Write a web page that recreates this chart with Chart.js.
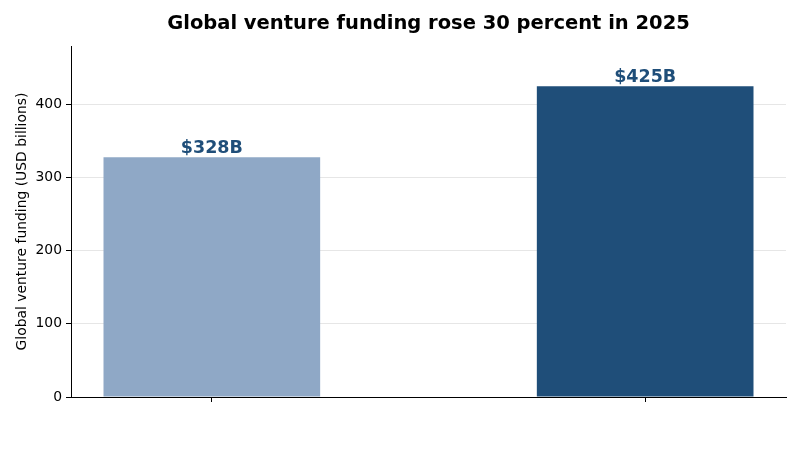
<!DOCTYPE html>
<html>
<head>
<meta charset="utf-8">
<script src="https://cdn.jsdelivr.net/npm/chart.js@4.4.1/dist/chart.umd.min.js"></script>
<style>
html,body{margin:0;padding:0;background:#fff;}
#wrap{width:800px;height:459px;position:relative;}
</style>
</head>
<body>
<div id="wrap"><canvas id="c" width="800" height="459"></canvas></div>
<script>
const categories = ['2024', '2025'];
const funding = [328, 425];
const valueLabels = ['$328B', '$425B'];
const barColors = ['#8fa8c6', '#1f4e79'];
const yTicks = [0, 100, 200, 300, 400];
const titleText = 'Global venture funding rose 30 percent in 2025';
const yTitle = 'Global venture funding (USD billions)';

const FONT = "'DejaVu Sans', sans-serif";

const titlePlugin = {
  id: 'centerTitle',
  afterDraw(chart) {
    const ctx = chart.ctx, a = chart.chartArea;
    ctx.save();
    ctx.font = 'bold 19.5px ' + FONT;
    ctx.fillStyle = '#000';
    ctx.textAlign = 'center';
    ctx.textBaseline = 'middle';
    ctx.fillText(titleText, (a.left + a.right) / 2, 24);
    ctx.restore();
  }
};

const barLabelPlugin = {
  id: 'barLabels',
  afterDatasetsDraw(chart) {
    const ctx = chart.ctx;
    const meta = chart.getDatasetMeta(0);
    ctx.save();
    ctx.font = 'bold 17.5px ' + FONT;
    ctx.fillStyle = '#1f4e79';
    ctx.textAlign = 'center';
    ctx.textBaseline = 'alphabetic';
    meta.data.forEach((el, i) => {
      ctx.fillText(valueLabels[i], el.x, el.y - 4);
    });
    ctx.restore();
  }
};

new Chart(document.getElementById('c'), {
  type: 'bar',
  data: {
    datasets: [{
      data: categories.map((c, i) => ({x: i, y: funding[i]})),
      backgroundColor: barColors,
      borderWidth: 0,
      barPercentage: 0.5,
      categoryPercentage: 1.0
    }]
  },
  options: {
    responsive: false,
    animation: false,
    devicePixelRatio: 1,
    layout: {padding: {top: 46, right: 14, left: 0, bottom: 0}},
    plugins: {
      legend: {display: false},
      title: {display: false},
      tooltip: {enabled: false}
    },
    scales: {
      x: {
        type: 'linear',
        offset: false,
        min: -0.325,
        max: 1.325,
        afterBuildTicks(scale) { scale.ticks = categories.map((c, i) => ({value: i})); },
        afterFit(scale) { scale.height = 62; },
        ticks: {callback: () => '', font: {family: FONT, size: 13.9}},
        grid: {offset: false, drawOnChartArea: false, drawTicks: true, tickLength: 5, color: 'rgba(0,0,0,0)', tickColor: '#000', tickWidth: 1},
        border: {display: true, color: '#000', width: 1}
      },
      y: {
        min: 0,
        max: 480,
        afterBuildTicks(scale) { scale.ticks = yTicks.map(v => ({value: v})); },
        afterFit(scale) { scale.width = 71; },
        ticks: {color: '#000', padding: 4, font: {family: FONT, size: 13.9}},
        grid: {
          color: (ctx) => (ctx.tick && ctx.tick.value === 0) ? 'rgba(0,0,0,0)' : '#e6e6e6',
          tickColor: '#000',
          tickLength: 5,
          lineWidth: 1
        },
        border: {display: true, color: '#000', width: 1},
        title: {display: true, text: yTitle, color: '#000', font: {family: FONT, size: 13.9}, padding: {top: 14, bottom: 0}}
      }
    }
  },
  plugins: [titlePlugin, barLabelPlugin]
});
</script>
</body>
</html>
